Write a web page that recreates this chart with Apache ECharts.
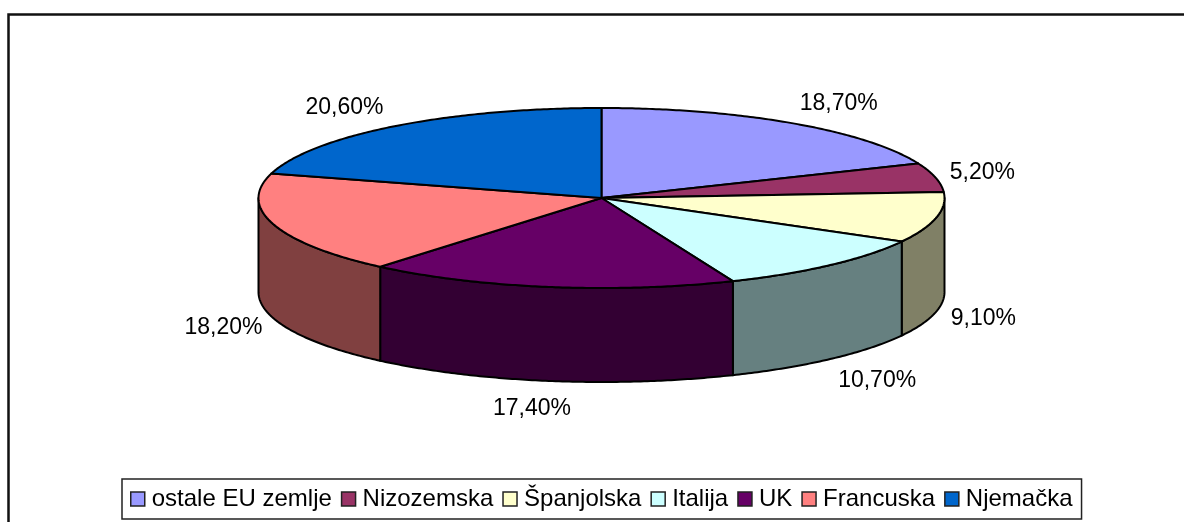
<!DOCTYPE html>
<html>
<head>
<meta charset="utf-8">
<title>Pie</title>
<style>
html, body { margin: 0; padding: 0; background: #fff; }
#chart { width: 1184px; height: 522px; }
</style>
<script src="https://cdn.jsdelivr.net/npm/echarts@6/dist/echarts.min.js"></script>
</head>
<body>
<div id="chart"></div>
<script>
var categories = ['ostale EU zemlje', 'Nizozemska', 'Španjolska', 'Italija', 'UK', 'Francuska', 'Njemačka'];
var shares = [18.7, 5.2, 9.1, 10.7, 17.4, 18.2, 20.6];
var topColors = ['#9999FF', '#993366', '#FFFFCC', '#CCFFFF', '#660066', '#FF8080', '#0066CC'];
var sideColors = ['#4D4D80', '#4D1A33', '#808066', '#668080', '#330033', '#804040', '#003366'];

var cx = 601.5, cy = 198, rx = 343, ry = 90, depth = 94;
var fontName = '"Liberation Sans", Arial, sans-serif';
var total = shares.reduce(function (a, b) { return a + b; }, 0);

// angle is clockwise from the top of the ellipse
function rim(angle, drop) {
    return [cx + rx * Math.sin(angle), cy - ry * Math.cos(angle) + (drop || 0)];
}

function arc(from, to, drop) {
    var pts = [];
    var steps = Math.max(2, Math.ceil((to - from) / 0.01));
    for (var i = 0; i <= steps; i++) {
        pts.push(rim(from + (to - from) * i / steps, drop));
    }
    return pts;
}

function renderSlice(params, api) {
    var start = api.value(0) / total * 2 * Math.PI;
    var end = start + api.value(1) / total * 2 * Math.PI;
    var children = [];
    var lineStyle = { stroke: '#000', lineWidth: 2, lineJoin: 'round' };

    // only the front half of the cake shows a wall
    var from = Math.max(start, Math.PI / 2);
    var to = Math.min(end, Math.PI * 3 / 2);
    if (to > from) {
        children.push({
            type: 'polygon',
            shape: { points: arc(from, to, 0).concat(arc(from, to, depth).reverse()) },
            style: Object.assign({ fill: sideColors[params.seriesIndex] }, lineStyle)
        });
    }

    children.push({
        type: 'polygon',
        shape: { points: [[cx, cy]].concat(arc(start, end, 0)) },
        style: Object.assign({ fill: topColors[params.seriesIndex] }, lineStyle)
    });

    var mid = (start + end) / 2;
    var s = Math.sin(mid), c = Math.cos(mid);
    var p = rim(mid, c < 0 ? depth : 0);
    var pushX = Math.max(-1, Math.min(1, s * 2.2)) * (s < 0 ? 50 : 47);
    children.push({
        type: 'text',
        x: p[0] + pushX,
        y: p[1] + (c < 0 ? -27 * c : -25 * c) + 1,
        style: {
            text: api.value(1).toFixed(2).replace('.', ',') + '%',
            font: '23px ' + fontName,
            fill: '#000',
            align: 'center',
            verticalAlign: 'middle'
        }
    });
    return { type: 'group', children: children };
}

var running = 0;
var series = categories.map(function (name, i) {
    var item = {
        name: name,
        type: 'custom',
        coordinateSystem: 'none',
        silent: true,
        itemStyle: { color: topColors[i] },
        renderItem: renderSlice,
        data: [[running, shares[i]]]
    };
    running += shares[i];
    return item;
});

var myChart = echarts.init(document.getElementById('chart'), null, { renderer: 'canvas' });

var option = {
    animation: false,
    backgroundColor: '#fff',
    tooltip: { show: false },
    legend: {
        show: true,
        left: 122,
        top: 479,
        icon: 'rect',
        selectedMode: false,
        itemWidth: 14,
        itemHeight: 14,
        itemGap: 9,
        padding: [8, 9, 8, 8],
        borderColor: '#222',
        borderWidth: 1.5,
        itemStyle: { borderColor: '#222', borderWidth: 1.5 },
        textStyle: { fontFamily: 'Liberation Sans', fontSize: 24, color: '#000', padding: [0, 0, 0, 2] },
        data: categories
    },
    graphic: [
        {
            type: 'polyline',
            shape: { points: [[8.5, 522], [8.5, 14.5], [1184, 14.5]] },
            style: { stroke: '#111', lineWidth: 2.5, fill: null }
        }
    ],
    series: series
};

myChart.setOption(option, true);
</script>
</body>
</html>
